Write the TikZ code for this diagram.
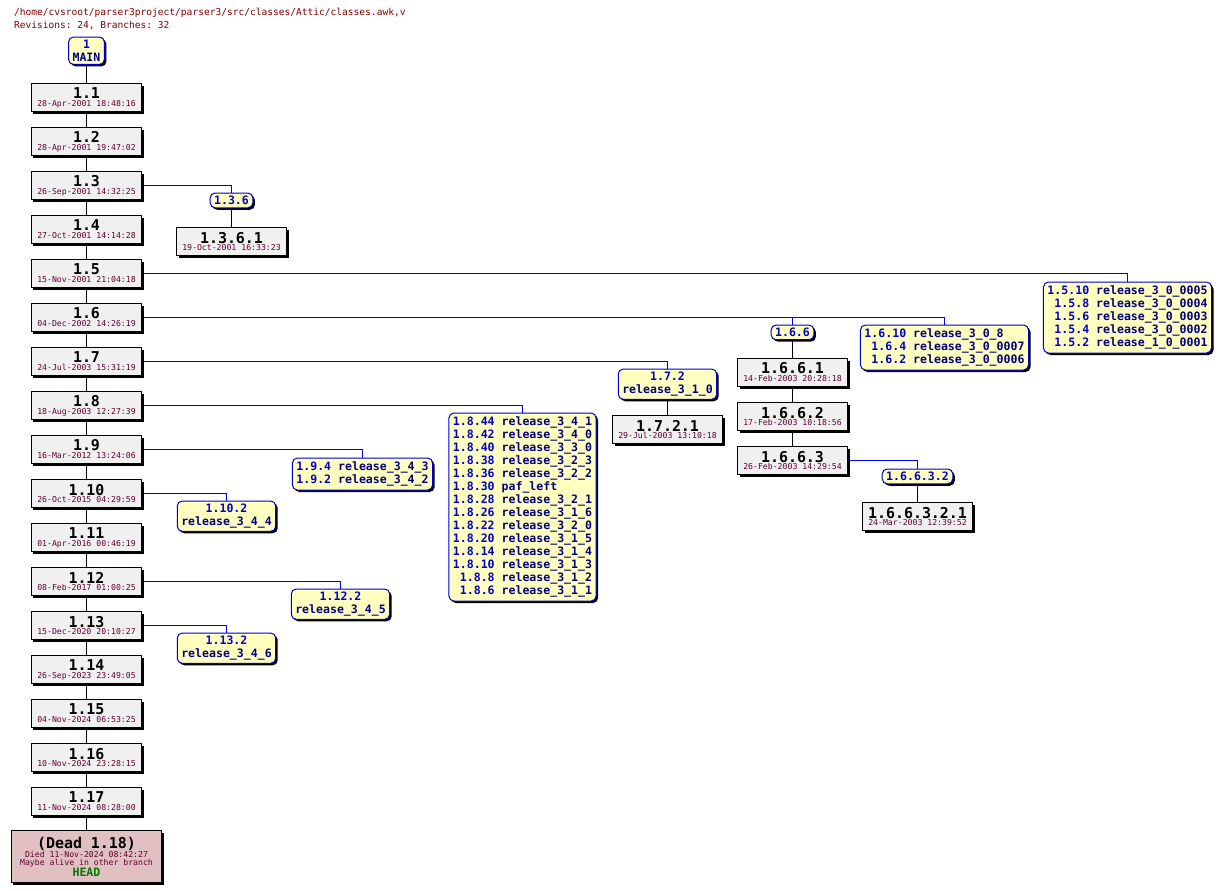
\documentclass[tikz,border=0pt]{standalone}
\usepackage{fontspec}
\setmonofont{DejaVu Sans Mono}
\usetikzlibrary{calc,shadows,backgrounds}
\definecolor{LYellow}{HTML}{FFFFC0}
\definecolor{DBlue}{HTML}{0000C8}
\definecolor{NBlue}{HTML}{000080}
\definecolor{BLine}{HTML}{0000FF}
\definecolor{LGray}{HTML}{F0F0F0}
\definecolor{LRose}{HTML}{E0C0C0}
\definecolor{DRed}{HTML}{800000}
\definecolor{DPlum}{HTML}{600030}
\definecolor{DGreen}{HTML}{007800}
\newcommand{\revfont}{\fontsize{15}{15}\selectfont\bfseries}
\newcommand{\datefont}{\fontsize{8.2}{8}\selectfont}
\newcommand{\tagfont}{\fontsize{11.6}{13bp}\selectfont\bfseries}
\tikzset{
  box/.style={draw=black, line width=1bp, align=center, inner sep=0pt,
    drop shadow={shadow xshift=2bp, shadow yshift=-2bp, fill=black, opacity=1},
    font=\ttfamily\datefont},
  revbox/.style={box, fill=LGray, minimum width=110bp, minimum height=28bp},
  deadbox/.style={box, fill=LRose, minimum width=150bp, minimum height=52bp},
  tagbox/.style={box, draw=DBlue, fill=LYellow, rounded corners=5bp,
    inner xsep=4bp, inner ysep=3bp, anchor=north, font=\ttfamily\tagfont},
  trunk/.style={draw=black, line width=1bp},
  branch/.style={draw=BLine, line width=1bp},
}
% revision box: name, position, revision, date
\NewDocumentCommand{\RevBox}{m m m m}{
  \node[revbox] (#1) at (#2) {{\revfont #3}\\{\color{DPlum}#4}};
}
% one line of a tag box
\NewDocumentCommand{\TagRow}{m m}{{\color{DBlue}#1} & {\color{NBlue}#2}\\}
% half a pixel off, so that 1px lines sit on pixel rows
\newcommand{\Canvas}{
\useasboundingbox (-0.5,-0.5) rectangle (1221.5,890.5);
}

\begin{document}
\begin{tikzpicture}[x=1bp, y=-1bp]
\Canvas
\node[anchor=base west, text=DRed, font=\ttfamily\fontsize{9.6}{10}\selectfont] (path) at (10,15)
  {/home/cvsroot/parser3project/parser3/src/classes/Attic/classes.awk,v};
\node[anchor=base west, text=DRed, font=\ttfamily\fontsize{9.6}{10}\selectfont] (stats) at (10,28)
  {Revisions: 24, Branches: 32};

% trunk
\node[tagbox] (main) at (86,36) {{\color{DBlue}1}\\{\color{NBlue}MAIN}};
\RevBox{r1-1}{86,97}{1.1}{28-Apr-2001 18:48:16}
\RevBox{r1-2}{86,141}{1.2}{28-Apr-2001 19:47:02}
\RevBox{r1-3}{86,185}{1.3}{26-Sep-2001 14:32:25}
\RevBox{r1-4}{86,229}{1.4}{27-Oct-2001 14:14:28}
\RevBox{r1-5}{86,273}{1.5}{15-Nov-2001 21:04:18}
\RevBox{r1-6}{86,317}{1.6}{04-Dec-2002 14:26:19}
\RevBox{r1-7}{86,361}{1.7}{24-Jul-2003 15:31:19}
\RevBox{r1-8}{86,405}{1.8}{18-Aug-2003 12:27:39}
\RevBox{r1-9}{86,449}{1.9}{16-Mar-2012 13:24:06}
\RevBox{r1-10}{86,493}{1.10}{26-Oct-2015 04:29:59}
\RevBox{r1-11}{86,537}{1.11}{01-Apr-2016 00:46:19}
\RevBox{r1-12}{86,581}{1.12}{08-Feb-2017 01:00:25}
\RevBox{r1-13}{86,625}{1.13}{15-Dec-2020 20:10:27}
\RevBox{r1-14}{86,669}{1.14}{26-Sep-2023 23:49:05}
\RevBox{r1-15}{86,713}{1.15}{04-Nov-2024 06:53:25}
\RevBox{r1-16}{86,757}{1.16}{10-Nov-2024 23:28:15}
\RevBox{r1-17}{86,801}{1.17}{11-Nov-2024 08:28:00}
\node[deadbox] (dead) at (86,856) {{\revfont (Dead 1.18)}\\{\color{DPlum}Died 11-Nov-2024 08:42:27}\\
  {\color{DPlum}Maybe alive in other branch}\\{\color{DGreen}\tagfont HEAD}};

% branches
\node[tagbox] (t1-3-6) at (231,192) {{\color{DBlue}1.3.6}};
\RevBox{r1-3-6-1}{231,241}{1.3.6.1}{19-Oct-2001 16:33:23}

\node[tagbox] (t1-5-10) at (1127,281) {\begin{tabular}{@{}r@{\ }l@{}}
  \TagRow{1.5.10}{release\_3\_0\_0005}
  \TagRow{1.5.8}{release\_3\_0\_0004}
  \TagRow{1.5.6}{release\_3\_0\_0003}
  \TagRow{1.5.4}{release\_3\_0\_0002}
  \TagRow{1.5.2}{release\_1\_0\_0001}
\end{tabular}};

\node[tagbox] (t1-6-10) at (944,324) {\begin{tabular}{@{}r@{\ }l@{}}
  \TagRow{1.6.10}{release\_3\_0\_8}
  \TagRow{1.6.4}{release\_3\_0\_0007}
  \TagRow{1.6.2}{release\_3\_0\_0006}
\end{tabular}};

\node[tagbox] (t1-6-6) at (792,324) {{\color{DBlue}1.6.6}};
\RevBox{r1-6-6-1}{792,372}{1.6.6.1}{14-Feb-2003 20:28:18}
\RevBox{r1-6-6-2}{792,416}{1.6.6.2}{17-Feb-2003 10:18:56}
\RevBox{r1-6-6-3}{792,460}{1.6.6.3}{26-Feb-2003 14:29:54}
\node[tagbox] (t1-6-6-3-2) at (917,468) {{\color{DBlue}1.6.6.3.2}};
\RevBox{r1-6-6-3-2-1}{917,516}{1.6.6.3.2.1}{24-Mar-2003 12:39:52}

\node[tagbox] (t1-7-2) at (667,368) {{\color{DBlue}1.7.2}\\{\color{NBlue}release\_3\_1\_0}};
\RevBox{r1-7-2-1}{667,429}{1.7.2.1}{29-Jul-2003 13:10:18}

\node[tagbox] (t1-8-44) at (522,412) {\begin{tabular}{@{}r@{\ }l@{}}
  \TagRow{1.8.44}{release\_3\_4\_1}
  \TagRow{1.8.42}{release\_3\_4\_0}
  \TagRow{1.8.40}{release\_3\_3\_0}
  \TagRow{1.8.38}{release\_3\_2\_3}
  \TagRow{1.8.36}{release\_3\_2\_2}
  \TagRow{1.8.30}{paf\_left}
  \TagRow{1.8.28}{release\_3\_2\_1}
  \TagRow{1.8.26}{release\_3\_1\_6}
  \TagRow{1.8.22}{release\_3\_2\_0}
  \TagRow{1.8.20}{release\_3\_1\_5}
  \TagRow{1.8.14}{release\_3\_1\_4}
  \TagRow{1.8.10}{release\_3\_1\_3}
  \TagRow{1.8.8}{release\_3\_1\_2}
  \TagRow{1.8.6}{release\_3\_1\_1}
\end{tabular}};

\node[tagbox] (t1-9-4) at (362,457) {\begin{tabular}{@{}r@{\ }l@{}}
  \TagRow{1.9.4}{release\_3\_4\_3}
  \TagRow{1.9.2}{release\_3\_4\_2}
\end{tabular}};

\node[tagbox] (t1-10-2) at (226,500) {{\color{DBlue}1.10.2}\\{\color{NBlue}release\_3\_4\_4}};
\node[tagbox] (t1-12-2) at (340,588) {{\color{DBlue}1.12.2}\\{\color{NBlue}release\_3\_4\_5}};
\node[tagbox] (t1-13-2) at (226,632) {{\color{DBlue}1.13.2}\\{\color{NBlue}release\_3\_4\_6}};

% connectors
\begin{scope}[on background layer]
\draw[trunk] (main) -- (r1-1);
\draw[trunk] (r1-1) -- (r1-2);
\draw[trunk] (r1-2) -- (r1-3);
\draw[trunk] (r1-3) -- (r1-4);
\draw[trunk] (r1-4) -- (r1-5);
\draw[trunk] (r1-5) -- (r1-6);
\draw[trunk] (r1-6) -- (r1-7);
\draw[trunk] (r1-7) -- (r1-8);
\draw[trunk] (r1-8) -- (r1-9);
\draw[trunk] (r1-9) -- (r1-10);
\draw[trunk] (r1-10) -- (r1-11);
\draw[trunk] (r1-11) -- (r1-12);
\draw[trunk] (r1-12) -- (r1-13);
\draw[trunk] (r1-13) -- (r1-14);
\draw[trunk] (r1-14) -- (r1-15);
\draw[trunk] (r1-15) -- (r1-16);
\draw[trunk] (r1-16) -- (r1-17);
\draw[trunk] (r1-17) -- (dead);

\draw[branch] (r1-3) -| (t1-3-6);
\draw[branch] (r1-5) -| (t1-5-10);
\draw[branch] (r1-6) -| (t1-6-10);
\draw[branch] (r1-6) -| (t1-6-6);
\draw[branch] (r1-7) -| (t1-7-2);
\draw[branch] (r1-8) -| (t1-8-44);
\draw[branch] (r1-9) -| (t1-9-4);
\draw[branch] (r1-10) -| (t1-10-2);
\draw[branch] (r1-12) -| (t1-12-2);
\draw[branch] (r1-13) -| (t1-13-2);
\draw[branch] (r1-6-6-3) -| (t1-6-6-3-2);

\draw[trunk] (t1-3-6) -- (r1-3-6-1);
\draw[trunk] (t1-6-6) -- (r1-6-6-1);
\draw[trunk] (r1-6-6-1) -- (r1-6-6-2);
\draw[trunk] (r1-6-6-2) -- (r1-6-6-3);
\draw[trunk] (t1-6-6-3-2) -- (r1-6-6-3-2-1);
\draw[trunk] (t1-7-2) -- (r1-7-2-1);
\end{scope}
\end{tikzpicture}
\end{document}
